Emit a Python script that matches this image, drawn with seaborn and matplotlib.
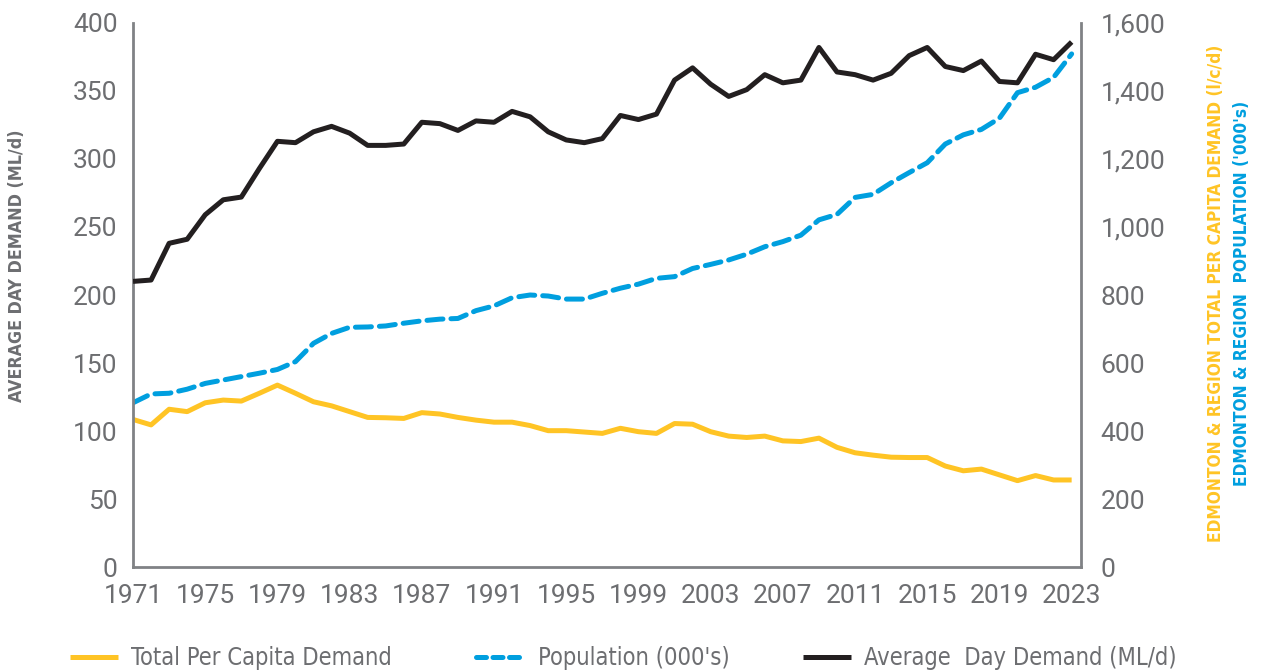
import numpy as np
import pandas as pd
import matplotlib
matplotlib.use("Agg")
import matplotlib.pyplot as plt
import seaborn as sns
from matplotlib.lines import Line2D

sns.set_theme(style="white")
plt.rcParams["font.family"] = ["Roboto", "DejaVu Sans"]

# data
years = list(range(1971, 2024))

avg_day_demand = [210, 211, 238, 241, 259, 270, 272, 293, 313, 312,
                  320, 324, 319, 310, 310, 311, 327, 326, 321, 328,
                  327, 335, 331, 320, 314, 312, 315, 332, 329, 333,
                  358, 367, 355, 346, 351, 362, 356, 358, 382, 364,
                  362, 358, 363, 376, 382, 368, 365, 372, 357, 356,
                  377, 373, 386]

population = [483, 509, 511, 523, 540, 550, 560, 570, 581, 604,
              658, 687, 705, 706, 709, 717, 724, 729, 731, 754,
              768, 792, 800, 797, 788, 788, 805, 820, 832, 849,
              854, 878, 890, 903, 920, 942, 957, 976, 1021, 1037,
              1087, 1096, 1130, 1160, 1189, 1244, 1271, 1287, 1320, 1395,
              1411, 1440, 1509]

per_capita = [434, 418, 464, 457, 483, 491, 488, 511, 535, 511,
              486, 474, 457, 440, 439, 437, 454, 450, 440, 432,
              426, 426, 416, 401, 401, 397, 393, 408, 398, 393,
              422, 420, 398, 385, 381, 385, 371, 369, 379, 352,
              336, 329, 323, 322, 322, 297, 283, 288, 271, 254,
              269, 256, 256]

df = pd.DataFrame({
    "Year": years,
    "Average Day Demand": avg_day_demand,
    "Population": population,
    "Per Capita": per_capita,
})

YELLOW = "#FFC425"
BLUE = "#009FDF"
BLACK = "#231F20"
GREY = "#6D6E71"
SPINE = "#808285"

fig = plt.figure(figsize=(12.62, 6.70), dpi=100)
ax = fig.add_axes([0.1054, 0.1537, 0.7512, 0.812])
ax2 = ax.twinx()

sns.lineplot(data=df, x="Year", y="Per Capita", ax=ax2, color=YELLOW,
             linewidth=3.6, solid_capstyle="butt", zorder=2)
sns.lineplot(data=df, x="Year", y="Population", ax=ax2, color=BLUE,
             linewidth=3.6, dashes=False, zorder=2)
ax2.lines[1].set_dashes((3.2, 1.6))
ax2.lines[1].set_dash_capstyle("round")
sns.lineplot(data=df, x="Year", y="Average Day Demand", ax=ax, color=BLACK,
             linewidth=3.6, solid_capstyle="butt", zorder=3)

# primary axis on top so the black line sits over the others
ax.set_zorder(ax2.get_zorder() + 1)
ax.patch.set_visible(False)

ax.set_xlim(1971, 2023.52)
ax.set_ylim(0, 400)
ax2.set_ylim(0, 1600)
ax.set_xticks(range(1971, 2024, 4))
ax.set_yticks(range(0, 401, 50))
ax2.set_yticks(range(0, 1601, 200))
ax2.set_yticklabels([f"{v:,}" for v in range(0, 1601, 200)])

for a in (ax, ax2):
    a.grid(False)
    a.set_xlabel("")
    a.set_ylabel("")
    for s in a.spines.values():
        s.set_visible(False)
    a.tick_params(axis="both", length=0, labelsize=19, labelcolor=GREY)

ax.tick_params(axis="y", pad=11)
ax2.tick_params(axis="y", pad=14)
ax.tick_params(axis="x", pad=12)

ax.spines["left"].set_visible(True)
ax.spines["bottom"].set_visible(True)
ax2.spines["right"].set_visible(True)
for a, side in ((ax, "left"), (ax, "bottom"), (ax2, "right")):
    a.spines[side].set_color(SPINE)
    a.spines[side].set_linewidth(2)

lab = dict(rotation=90, ha="center", va="center", fontweight="bold",
           family="DejaVu Sans", fontstretch="condensed")
fig.text(0.0135, 0.604, "AVERAGE DAY DEMAND (ML/d)", fontsize=12.8,
         color=GREY, **lab)
fig.text(0.9635, 0.5625, "EDMONTON & REGION TOTAL PER CAPITA DEMAND (l/c/d)",
         fontsize=12.4, color=YELLOW, **lab)
fig.text(0.9845, 0.5625, "EDMONTON & REGION  POPULATION ('000's)",
         fontsize=12.4, color=BLUE, **lab)

handles = [
    Line2D([], [], color=YELLOW, linewidth=3.6, solid_capstyle="butt"),
    Line2D([], [], color=BLUE, linewidth=3.6, dashes=(2.0, 1.3),
           dash_capstyle="round"),
    Line2D([], [], color=BLACK, linewidth=3.6, solid_capstyle="butt"),
]
labels = ["Total Per Capita Demand", "Population (000's)",
          "Average  Day Demand (ML/d)"]
x_anchor = [0.0555, 0.3775, 0.636]
for h, l, xa in zip(handles, labels, x_anchor):
    fig.legend([h], [l], loc="center left", bbox_to_anchor=(xa, 0.018),
               frameon=False, handlelength=2.05, handletextpad=0.55,
               borderpad=0, borderaxespad=0,
               prop={"family": "DejaVu Sans", "stretch": "condensed",
                     "size": 17},
               labelcolor=GREY)

fig.savefig("out.png", dpi=100)
